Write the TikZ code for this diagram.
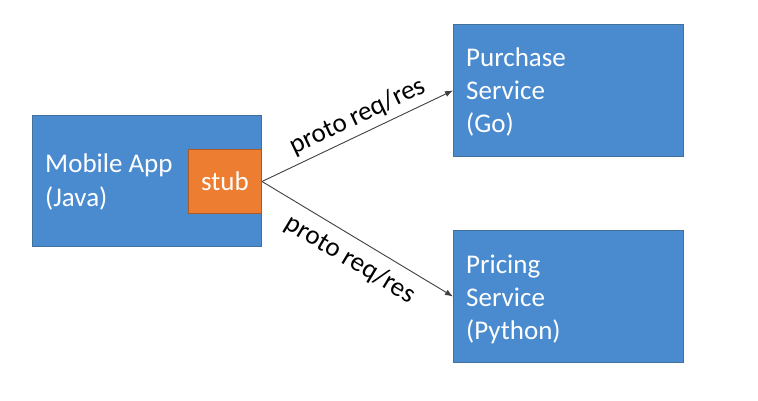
\documentclass[tikz,border=0pt]{standalone}
\usepackage{fontspec}
\setmainfont{Carlito}
\usetikzlibrary{arrows.meta}
\definecolor{boxblue}{HTML}{4A8BD0}
\definecolor{boxedge}{HTML}{41719C}
\definecolor{stuborange}{HTML}{ED7D31}
\definecolor{stubedge}{HTML}{AE5A21}
\definecolor{linegray}{HTML}{404040}
\tikzset{
  svcbox/.style={draw=boxedge, fill=boxblue, line width=1pt, anchor=north west, inner sep=0pt},
  stubbox/.style={draw=stubedge, fill=stuborange, line width=1pt, anchor=north west, inner sep=0pt,
    text=white, font=\fontsize{27}{32}\selectfont},
  boxtext/.style={text=white, font=\fontsize{27}{33}\selectfont, anchor=base west, inner sep=0pt},
  conn/.style={draw=linegray, line width=0.9pt, -{Latex[length=8pt,width=6pt]}},
  connlabel/.style={text=black, font=\fontsize{27}{30}\selectfont, sloped}
}
\begin{document}
\begin{tikzpicture}[x=1pt,y=-1pt]
\useasboundingbox[fill=white] (0,0) rectangle (758,401);
\node[svcbox, minimum width=229pt, minimum height=131pt] (mobile) at (32,115) {};
\node[stubbox, minimum width=73pt, minimum height=64pt] (stub) at (188,149) {stub};
\node[svcbox, minimum width=230pt, minimum height=132pt] (purchase) at (453,24) {};
\node[svcbox, minimum width=230pt, minimum height=132pt] (pricing) at (453,230) {};
\node[boxtext] (mobiletxt1) at (45,173) {Mobile App};
\node[boxtext] (mobiletxt2) at (45,206) {(Java)};
\node[boxtext] (purchtxt1) at (466,67) {Purchase};
\node[boxtext] (purchtxt2) at (466,100) {Service};
\node[boxtext] (purchtxt3) at (466,133) {(Go)};
\node[boxtext] (pricetxt1) at (466,273) {Pricing};
\node[boxtext] (pricetxt2) at (466,306) {Service};
\node[boxtext] (pricetxt3) at (466,339) {(Python)};
\draw[conn] (stub.east) -- node[connlabel, above=2pt, pos=0.54] (lab1) {proto req/res} (purchase.west);
\draw[conn] (stub.east) -- node[connlabel, below=6pt, pos=0.52] (lab2) {proto req/res} (pricing.west);
\end{tikzpicture}
\end{document}
